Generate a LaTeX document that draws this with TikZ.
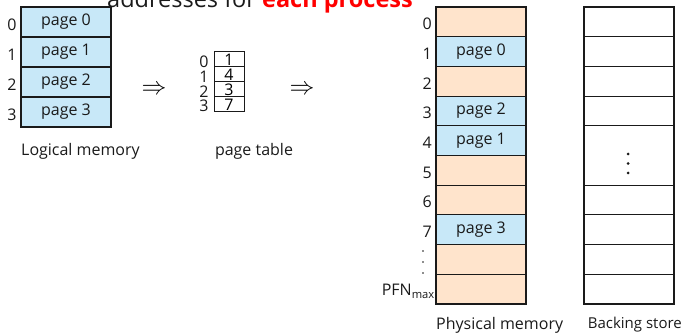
\documentclass[tikz,border=0pt]{standalone}
\usepackage{fontspec}
\setmainfont{Open Sans}
\definecolor{peach}{HTML}{FFE4CC}
\definecolor{pblue}{HTML}{C8E8F8}
\definecolor{ink}{HTML}{1A1A1A}
\begin{document}
\begin{tikzpicture}[x=1pt,y=-1pt,
  cell/.style={draw=ink,line width=1.1pt,minimum width=90pt,inner sep=0pt,font=\fontsize{16}{18}\selectfont,text=ink},
  lcell/.style={cell,fill=pblue,minimum height=30pt},
  pcell/.style={cell,minimum height=29.7pt},
  bcell/.style={cell,fill=white,minimum height=29.7pt},
  tcell/.style={draw=ink,line width=1pt,minimum width=30pt,minimum height=15pt,inner sep=0pt,font=\fontsize{16}{12}\selectfont},
  lab/.style={inner sep=0pt,font=\fontsize{16}{18}\selectfont,text=ink},
  arr/.style={inner sep=0pt,font=\fontsize{25}{25}\selectfont},
  dot/.style={fill=ink,draw=none}]
\useasboundingbox (0,0) rectangle (685,336);
% title (cut at top, as in the reference)
\node[anchor=base west,inner sep=0pt,font=\fontsize{23.5}{26}\selectfont,text=ink] (title) at (107,7.5) {addresses for \textcolor{red}{\bfseries each process}};
% logical memory
\foreach \i in {0,1,2,3}{
  \node[lcell] (l\i) at (66,{22+30*\i}) {page \i};
  \node[lab] (ll\i) at (12,{25+30*\i}) {\i};
}
\node[lab,anchor=west] (lmem) at (21,151) {Logical memory};
\node[arr] (a1) at (154,90) {$\Rightarrow$};
% page table
\foreach \i/\v in {0/1,1/4,2/3,3/7}{
  \node[tcell] (t\i) at (229,{59.5+15*\i}) {\v};
  \node[lab] (tl\i) at (204,{62+14.7*\i}) {\i};
}
\node[lab] (ptab) at (254,151) {page table};
\node[arr] (a2) at (302,90) {$\Rightarrow$};
% physical memory
\foreach \i/\c/\t in {0/peach/,1/pblue/page 0,2/peach/,3/pblue/page 2,4/pblue/page 1,5/peach/,6/peach/,7/pblue/page 3,8/peach/,9/peach/}{
  \node[pcell,fill=\c] (p\i) at (481,{7+29.7*(\i+0.5)}) {\t};
}
\foreach \i in {0,...,7}{
  \node[lab,anchor=east] (pl\i) at (432,{24+29.7*\i}) {\i};
}
\node[lab,anchor=east] (plmax) at (435,{24+29.7*9}) {PFN\textsubscript{max}};
\fill[dot] (423,251) circle (0.9) (423,262) circle (0.9) (423,273) circle (0.9);
\node[lab,anchor=west] (pmem) at (436,325) {Physical memory};
% backing store
\foreach \i in {0,1,2,3,6,7,8,9}{
  \node[bcell] (b\i) at (629,{7+29.7*(\i+0.5)}) {};
}
\node[cell,fill=white,minimum height=59.4pt] (bbig) at (629,{7+29.7*5}) {};
\fill[dot] (628,154) circle (1.5) (628,163.5) circle (1.5) (628,173) circle (1.5);
\node[lab,anchor=east,font=\fontsize{15}{17}\selectfont] (bstore) at (682,325) {Backing store};
\end{tikzpicture}
\end{document}
